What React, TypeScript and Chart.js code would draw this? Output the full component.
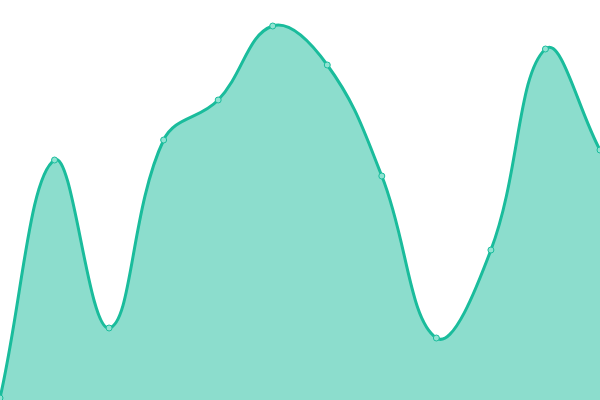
import { useEffect, useRef } from "react";
import { Chart, registerables } from "chart.js";

Chart.register(...registerables);

const labels = ["1", "2", "3", "4", "5", "6", "7", "8", "9", "10", "11", "12"];
const values = [2, 240, 72, 260, 300, 374, 335, 224, 62, 150, 351, 250];

const App = () => {
  const canvasRef = useRef<HTMLCanvasElement>(null);

  useEffect(() => {
    if (!canvasRef.current) return;
    const ctx = canvasRef.current.getContext("2d");

    const chart = new Chart(ctx!, {
      type: "line",
      data: {
        labels,
        datasets: [
          {
            data: values,
            borderColor: "#1abc9c",
            backgroundColor: "rgba(26, 188, 156, 0.5)",
            borderWidth: 3,
            fill: true,
            tension: 0.4,
            pointRadius: 3,
            pointBorderWidth: 1,
            pointBackgroundColor: "#8fe3d2",
            pointBorderColor: "#1abc9c",
          },
        ],
      },
      options: {
        animation: false,
        responsive: true,
        maintainAspectRatio: false,
        layout: { padding: 0, autoPadding: false },
        plugins: {
          legend: { display: false },
          tooltip: { enabled: false },
        },
        scales: {
          x: { display: false },
          y: { display: false, min: 0, max: 400 },
        },
      },
    });

    return () => {
      chart.destroy();
    };
  }, []);

  return (
    <div style={{ position: "fixed", left: 0, top: 0, width: 600, height: 400 }}>
      <canvas ref={canvasRef}></canvas>
    </div>
  );
};

export default App;
